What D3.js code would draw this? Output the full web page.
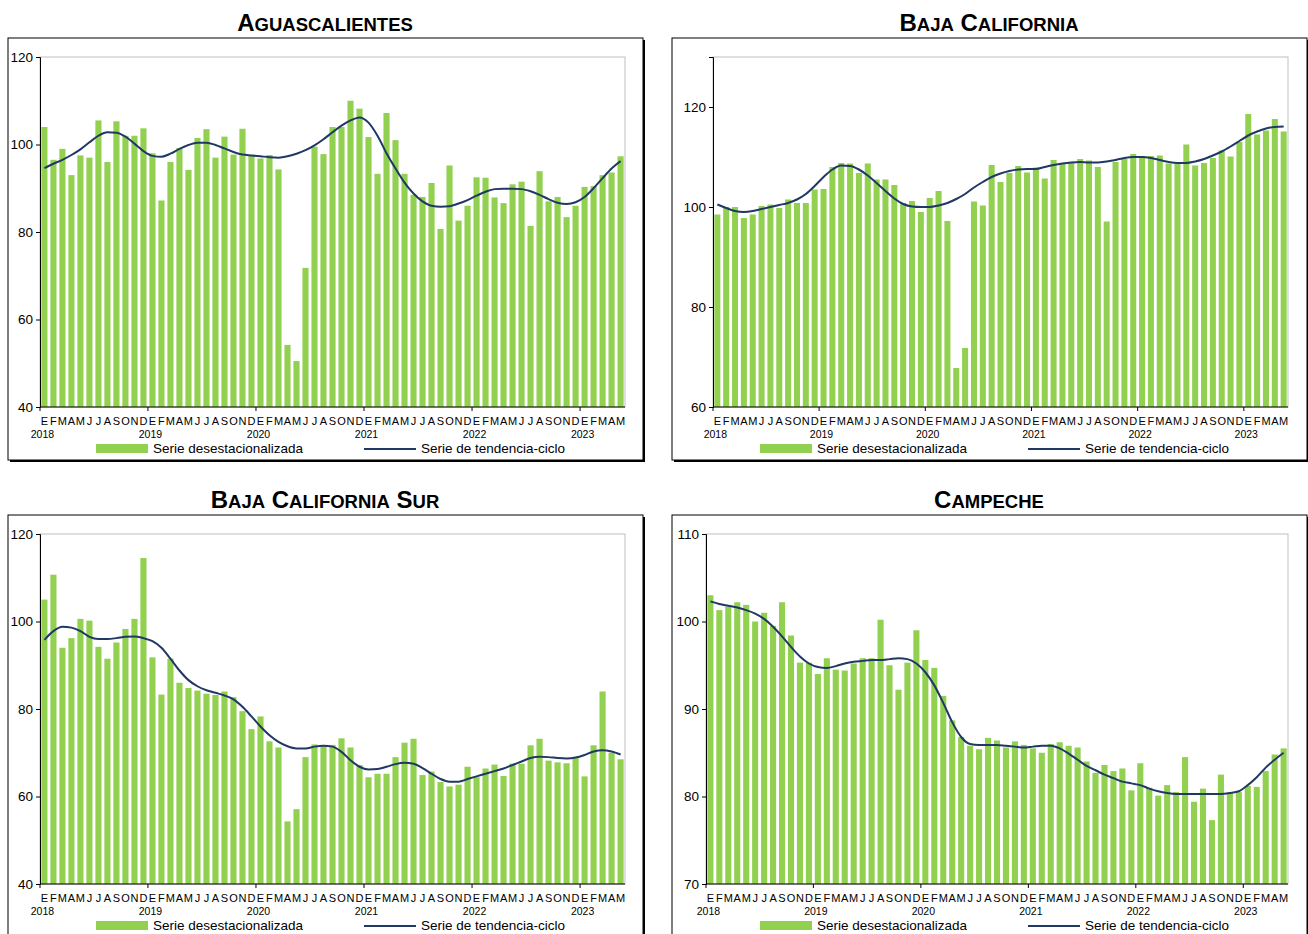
<!DOCTYPE html>
<html>
<head>
<meta charset="utf-8">
<script src="https://cdnjs.cloudflare.com/ajax/libs/d3/7.8.5/d3.min.js"></script>
<style>
body { margin: 0; background: #fff; }
text { font-family: "Liberation Sans", Arial, sans-serif; }
</style>
</head>
<body>
<div id="svg"></div>
<script>

var months = ["E","F","M","A","M","J","J","A","S","O","N","D"];
var years = ["2018","2019","2020","2021","2022","2023"];

var agsBars = [104,96.5,99,93,97.5,97,105.5,96,105.3,102,102,103.7,
  98,87.2,96,99.2,94.2,101.5,103.5,97,101.8,97.7,103.6,97.4,
  96.8,97.6,94.3,54.2,50.5,71.8,99.5,97.8,104,104,110,108.2,
  101.7,93.3,107.2,101,93.3,88.5,88,91.2,80.7,95.2,82.6,86,
  92.5,92.4,87.9,86.6,90.9,91.5,81.4,93.9,87,88,83.4,86,
  90.3,90.5,93,93.6,97.3];
var agsTrend = [94.6,95.6,96.5,97.6,98.9,100.5,102,102.8,102.7,101.8,100.2,98.5,
  97.4,97.2,97.9,99,99.9,100.4,100.4,99.9,99.1,98.3,97.7,97.5,
  97.3,97.1,97.0,97.3,97.9,98.7,99.8,101.2,102.8,104.3,105.5,106.2,
  105,102,98,94.5,91.3,88.8,87,86,85.8,85.9,86.5,87.3,
  88.3,89.2,89.8,89.9,89.9,89.8,89.3,88.5,87.5,86.7,86.4,86.8,
  88,90,92.3,94.5,96.2];

var bcBars = [98.5,100,100,97.8,98.5,100.2,100.5,99.8,101.5,100.8,100.8,103.5,
  103.6,108,108.8,108.7,106.8,108.7,105.5,105.5,104.4,100.8,101.2,99,
  101.8,103.2,97.2,67.8,71.8,101.1,100.3,108.4,105,106.8,108.2,106.9,
  107.9,105.7,109.4,108.8,108.9,109.6,109.3,108,97.1,109,109.6,110.6,
  110.2,110.2,110.3,108.7,108.7,112.5,108.3,108.8,109.8,111.3,110.1,113,
  118.6,114.5,115.3,117.6,115.1];
var bcTrend = [100.5,99.8,99.2,99,99.2,99.6,100,100.4,100.8,101.5,102.6,104.2,
  106,107.5,108.3,108.2,107.5,106.3,104.8,103.2,101.7,100.6,100.1,100,
  100,100.3,100.8,101.6,102.6,103.9,105,106,106.7,107.2,107.5,107.6,
  107.6,108,108.4,108.7,108.9,109,108.9,108.9,109.1,109.4,109.8,110,
  110,109.8,109.4,109,108.8,108.8,109.1,109.6,110.3,111.1,112.1,113.2,
  114.3,115.1,115.7,116,116.1];

var bcsBars = [105,110.7,94,96.2,100.6,100.2,94.2,91.5,95.2,98.3,100.6,114.5,
  91.8,83.3,91.5,86,84.8,84.2,83.5,83.2,84,82.7,79.5,75.4,
  78.3,72.6,71.2,54.3,57.1,69,71.9,71.7,71.8,73.3,71.2,67.2,
  64.4,65.2,65.2,69,72.3,73.2,64.9,65.7,63.3,62.3,62.7,66.8,
  64.4,66.4,67.3,64.7,67.5,67.5,71.7,73.2,68.2,67.8,67.6,69,
  64.6,71.7,84,70,68.5];
var bcsTrend = [95.8,97.8,98.8,98.6,97.8,96.5,96,96,96.2,96.5,96.6,96.2,
  95.5,94,91.5,88.8,86.6,85.2,84.3,83.7,83.1,82.2,80.5,78.3,
  76,74,72.5,71.5,71,71,71.4,71.6,71.4,70.2,68.3,66.8,
  66.2,66.3,66.8,67.4,67.7,67.5,66.5,65.2,64,63.4,63.4,64,
  64.6,65.2,65.8,66.4,67.2,68,68.8,69.1,69,68.8,68.7,68.9,
  69.5,70.3,70.6,70.3,69.6];

var camBars = [103,101.3,101.7,102.2,101.9,100,101,99.5,102.2,98.4,95.3,95.3,
  94,95.8,94.5,94.4,95.2,95.8,95.8,100.2,95,92.2,95.3,99,
  95.6,94.7,91.5,88.7,86.8,85.8,85.4,86.7,86.4,85.6,86.3,85.9,
  85.5,85,86,86.2,85.8,85.6,84,82.7,83.6,82.9,83.2,80.7,
  83.8,81,80.1,81.3,80.5,84.5,79.4,80.9,77.3,82.5,80.4,80.5,
  81.2,81.1,82.9,84.8,85.5];
var camTrend = [102.3,102,101.8,101.6,101.3,100.9,100.3,99.4,98.3,97.1,96,95.2,
  94.8,94.7,94.9,95.2,95.4,95.5,95.6,95.6,95.7,95.8,95.7,95.2,
  94.2,92.7,90.7,88.5,86.8,86,85.9,85.9,85.9,85.8,85.7,85.6,
  85.7,85.8,85.8,85.5,84.9,84.2,83.5,83,82.5,82.1,81.7,81.5,
  81.3,80.9,80.6,80.4,80.3,80.3,80.3,80.3,80.3,80.3,80.4,80.6,
  81.3,82.2,83.3,84.2,85.0];

var panels = [
  {title: "Aguascalientes", bars: agsBars, trend: agsTrend, dom: [40,120], ticks: [40,60,80,100,120], x: 0, y: 0, plotL: 40},
  {title: "Baja California", bars: bcBars, trend: bcTrend, dom: [60,130], ticks: [60,80,100,120], x: 664, y: 0, plotL: 49},
  {title: "Baja California Sur", bars: bcsBars, trend: bcsTrend, dom: [40,120], ticks: [40,60,80,100,120], x: 0, y: 477, plotL: 40},
  {title: "Campeche", bars: camBars, trend: camTrend, dom: [70,110], ticks: [70,80,90,100,110], x: 664, y: 477, plotL: 42}
];

var svg = d3.select("#svg").append("svg").attr("width", 1308).attr("height", 934);

panels.forEach(function(p) {
  var g = svg.append("g").attr("transform", "translate(" + p.x + "," + p.y + ")");

  // frame with shadow
  g.append("rect").attr("x", 10).attr("y", 40).attr("width", 635).attr("height", 422).attr("fill", "#000");
  g.append("rect").attr("x", 8).attr("y", 38).attr("width", 635).attr("height", 422)
    .attr("fill", "#fff").attr("stroke", "#000").attr("stroke-width", 1);

  var words = p.title.toUpperCase().split(" ");
  var t = g.append("text").attr("x", 325).attr("y", 31).attr("text-anchor", "middle")
    .attr("font-weight", "bold").attr("font-size", 22);
  words.forEach(function(w, i) {
    t.append("tspan").attr("font-size", 24).text((i ? " " : "") + w[0]);
    t.append("tspan").attr("font-size", 18.5).text(w.slice(1));
  });

  var left = p.plotL, right = p.x ? 624 : 625, top = 57, bottom = 407;
  var x = d3.scaleBand().domain(d3.range(p.bars.length)).range([left, right]).paddingInner(0.32).paddingOuter(0.15);
  var y = d3.scaleLinear().domain(p.dom).range([bottom, top]);

  g.append("rect").attr("x", left).attr("y", top).attr("width", right - left).attr("height", bottom - top)
    .attr("fill", "none").attr("stroke", "#bfbfbf");

  g.selectAll(".bar").data(p.bars).enter().append("rect")
    .attr("x", function(d, i) { return x(i); })
    .attr("width", x.bandwidth())
    .attr("y", function(d) { return y(d); })
    .attr("height", function(d) { return bottom - y(d); })
    .attr("fill", "#92d050");

  var line = d3.line().x(function(d, i) { return x(i) + x.bandwidth() / 2; })
    .y(function(d) { return y(d); }).curve(d3.curveMonotoneX);
  g.append("path").datum(p.trend).attr("d", line).attr("fill", "none")
    .attr("stroke", "#1f3864").attr("stroke-width", 2);

  var ya = g.append("g").attr("transform", "translate(" + left + ",0)")
    .call(d3.axisLeft(y).tickValues(p.ticks).tickSize(4))
    .attr("font-size", 13.5).attr("font-family", "Liberation Sans, Arial");
  ya.select(".domain").attr("stroke", "#000");
  ya.selectAll("text").attr("fill", "#000");

  g.append("line").attr("x1", left).attr("x2", right).attr("y1", bottom).attr("y2", bottom).attr("stroke", "#000");
  var step = x.step();
  years.forEach(function(yr, k) {
    var xb = k === 0 ? left : x(k * 12) - step * 0.16;
    g.append("line").attr("x1", xb).attr("x2", xb).attr("y1", bottom).attr("y2", bottom + 4).attr("stroke", "#000");
    g.append("text").attr("x", x(k * 12) + x.bandwidth() / 2 - 2).attr("y", bottom + 31)
      .attr("text-anchor", "middle").attr("font-size", 10.5).text(yr);
  });
  p.bars.forEach(function(d, i) {
    g.append("text").attr("x", x(i) + x.bandwidth() / 2).attr("y", bottom + 18)
      .attr("text-anchor", "middle").attr("font-size", 11).text(months[i % 12]);
  });

  // legend
  g.append("rect").attr("x", 96).attr("y", 444).attr("width", 52).attr("height", 9).attr("fill", "#92d050");
  g.append("text").attr("x", 153).attr("y", 453).attr("font-size", 13.5).text("Serie desestacionalizada");
  g.append("line").attr("x1", 364).attr("x2", 416).attr("y1", 449).attr("y2", 449)
    .attr("stroke", "#1f3864").attr("stroke-width", 2);
  g.append("text").attr("x", 421).attr("y", 453).attr("font-size", 13.5).text("Serie de tendencia-ciclo");
});

</script>
</body>
</html>
